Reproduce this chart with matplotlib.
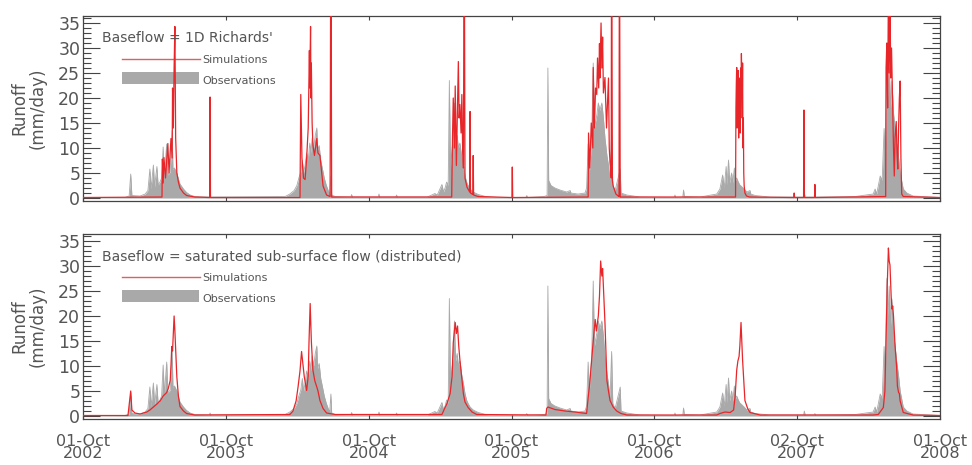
import numpy as np
import matplotlib
matplotlib.use('Agg')
import matplotlib.pyplot as plt
from matplotlib.patches import Rectangle
from matplotlib.ticker import MultipleLocator

# daily runoff (mm/day), days counted from 01-Oct-2002
obs_day = [0, 107, 118, 122, 125, 146, 159, 166, 171, 174, 180, 183, 189, 192, 197, 201, 205, 208, 214, 217,
           223, 228, 230, 234, 240, 244, 248, 257, 265, 274, 286, 323, 325, 327,
           517, 529, 540, 547, 552, 557, 561, 564, 568, 572, 576, 580, 583, 586, 590, 594, 598, 600, 604, 608,
           612, 617, 622, 627, 631, 634, 636, 645, 685, 687, 689, 755, 757, 759, 800, 802, 804,
           880, 892, 900, 906, 918, 922, 926, 930, 934, 937, 940, 943, 947, 950, 953, 957, 960, 964, 969, 973,
           977, 981, 985, 990, 998, 1011, 1030, 1060, 1133, 1135, 1137,
           1179, 1187, 1189, 1191, 1197, 1207, 1220, 1237, 1246, 1248, 1266, 1284, 1288, 1292, 1295, 1301, 1305,
           1308, 1314, 1318, 1322, 1327, 1331, 1335, 1340, 1344, 1348, 1352, 1355, 1361, 1374, 1376, 1391, 1425,
           1512, 1514, 1516, 1534, 1536, 1538, 1578, 1621, 1629, 1636, 1640, 1645, 1647, 1651, 1654, 1659, 1662,
           1666, 1669, 1672, 1676, 1680, 1683, 1691, 1698, 1706, 1708, 1719, 1757,
           1843, 1845, 1847, 1870, 1872, 1874, 1975, 2021, 2026, 2030, 2039, 2044, 2049, 2052, 2056, 2059, 2062,
           2066, 2069, 2073, 2077, 2081, 2086, 2090, 2098, 2107, 2123, 2192]
obs_val = [0.05, 0.1, 0.4, 4.8, 0.5, 0.4, 0.8, 1.5, 5.8, 1.8, 6.6, 2.2, 6.3, 2.6, 3.2, 4.0, 10.2, 4.2, 10.8, 4.6,
           5.2, 13.5, 5.8, 6.0, 5.0, 3.8, 2.8, 1.8, 1.1, 0.6, 0.3, 0.2, 0.6, 0.2,
           0.3, 0.8, 1.5, 2.5, 4.0, 5.2, 7.5, 5.0, 6.5, 9.0, 7.5, 11.0, 9.0, 12.0, 10.0, 12.5, 14.0, 9.5, 10.5, 7.5,
           6.0, 4.0, 2.6, 1.5, 0.8, 4.4, 0.6, 0.3, 0.2, 0.7, 0.2, 0.2, 0.8, 0.2, 0.2, 0.6, 0.2,
           0.2, 0.6, 0.9, 0.6, 2.7, 1.2, 2.0, 3.2, 2.5, 23.5, 6.0, 9.0, 12.0, 19.0, 11.0, 12.5, 10.0, 11.0, 8.0, 6.5,
           4.5, 3.2, 2.5, 1.8, 1.2, 0.7, 0.3, 0.1, 0.1, 0.5, 0.1,
           0.3, 0.5, 26.0, 3.5, 2.5, 2.0, 1.6, 1.2, 1.5, 1.0, 0.8, 1.0, 2.0, 10.8, 5.0, 11.5, 27.0,
           14.0, 16.5, 19.0, 17.5, 19.0, 16.0, 12.0, 8.5, 6.5, 3.5, 12.9, 2.5, 1.5, 5.8, 1.0, 0.6, 0.2,
           0.1, 0.6, 0.1, 0.2, 1.6, 0.3, 0.2, 0.8, 1.8, 4.6, 2.0, 6.3, 2.6, 7.6, 3.0, 5.0, 3.0,
           6.0, 3.5, 4.0, 3.2, 2.6, 2.4, 1.8, 1.2, 1.5, 0.8, 0.5, 0.2,
           0.2, 1.0, 0.2, 0.2, 0.5, 0.2, 0.3, 0.8, 1.8, 0.8, 4.4, 3.5, 13.9, 8.0, 27.5, 20.0, 26.0,
           18.0, 23.4, 17.0, 14.0, 11.0, 8.0, 5.0, 1.8, 1.0, 0.4, 0.1]

# simulated runoff, baseflow from 1D Richards'
rich_day = [0, 202, 203, 205, 207, 211, 217, 220, 225, 228, 229, 231, 233, 235, 237, 240, 244, 248, 257, 265, 286,
            324, 325, 326,
            555, 557, 560, 564, 568, 572, 576, 579, 580, 582, 583, 584, 586, 588, 592, 598, 601, 606, 614, 623,
            632, 634, 636,
            943, 945, 947, 950, 952, 955, 957, 960, 962, 964, 967, 969, 971, 973, 975, 977, 982, 989, 990, 991,
            997, 998, 999, 1010, 1097, 1098, 1099,
            1292, 1293, 1296, 1300, 1304, 1305, 1308, 1311, 1314, 1316, 1319, 1321, 1322, 1325, 1327, 1329, 1331,
            1335, 1339, 1344, 1346, 1348, 1351, 1352, 1354, 1356, 1363, 1369, 1371, 1372, 1374,
            1669, 1670, 1671, 1672, 1673, 1674, 1675, 1676, 1677, 1678, 1679, 1680, 1681, 1682, 1683, 1684, 1685,
            1686, 1687, 1688, 1689, 1690, 1691, 1693, 1697, 1705,
            1818, 1819, 1820, 1843, 1844, 1845, 1871, 1872, 1873,
            2053, 2054, 2056, 2058, 2060, 2062, 2064, 2066, 2068, 2070, 2071, 2073, 2075, 2077, 2080, 2082, 2084,
            2086, 2088, 2090, 2092, 2094, 2098, 2192]
rich_val = [0.1, 0.2, 7.8, 3.0, 8.1, 4.0, 10.9, 5.0, 11.9, 8.0, 22.0, 14.0, 26.0, 34.3, 12.0, 5.0, 3.2, 2.0, 1.0, 0.5, 0.2,
            0.1, 20.2, 0.1,
            0.1, 20.7, 8.0, 4.0, 3.7, 8.0, 14.0, 29.5, 22.0, 34.3, 20.0, 27.0, 15.0, 10.6, 8.5, 11.9, 9.0, 8.5, 2.4, 0.6,
            0.3, 60.0, 0.2,
            0.2, 12.0, 20.0, 10.0, 22.4, 6.5, 15.0, 27.3, 16.0, 18.7, 13.0, 20.7, 10.0, 6.0, 60.0, 4.0, 2.2, 1.2, 17.3, 1.0,
            0.7, 8.5, 0.6, 0.3, 0.1, 6.2, 0.1,
            0.2, 13.0, 6.0, 15.0, 10.0, 26.1, 14.0, 22.0, 20.7, 28.0, 22.0, 30.9, 24.0, 35.0, 26.0, 32.2, 21.0,
            24.1, 14.0, 24.0, 10.0, 7.1, 4.0, 60.0, 3.5, 2.4, 0.8, 0.4, 0.3, 60.0, 0.2,
            0.2, 18.0, 23.0, 26.1, 14.0, 24.0, 20.0, 25.5, 12.0, 22.0, 17.0, 24.0, 13.0, 26.0, 20.0, 28.9, 24.0,
            16.0, 27.0, 10.0, 16.0, 5.0, 2.5, 1.0, 0.4, 0.2,
            0.1, 1.0, 0.1, 0.1, 17.6, 0.1, 0.1, 2.7, 0.1,
            0.3, 26.0, 31.0, 18.0, 42.0, 25.0, 40.0, 24.0, 30.0, 22.0, 18.7, 10.0, 4.4, 12.0, 15.3, 9.0, 5.8,
            14.0, 20.0, 23.4, 8.0, 0.8, 0.3, 0.1]

# simulated runoff, baseflow from distributed saturated sub-surface flow
dist_day = [0, 115, 122, 125, 133, 146, 163, 171, 180, 189, 197, 205, 214, 218, 223, 225, 227, 229, 233, 235, 240,
            244, 248, 257, 265, 286,
            529, 537, 545, 550, 555, 559, 563, 566, 572, 576, 578, 581, 584, 588, 593, 598, 601, 606, 614, 623, 645,
            918, 926, 931, 939, 944, 947, 952, 955, 958, 961, 964, 969, 973, 977, 985, 995, 1007,
            1184, 1186, 1189, 1207, 1233, 1258, 1288, 1292, 1296, 1301, 1305, 1310, 1313, 1318, 1321, 1324, 1327,
            1329, 1332, 1335, 1340, 1344, 1348, 1356, 1365, 1376, 1391,
            1621, 1629, 1642, 1655, 1664, 1668, 1672, 1675, 1678, 1680, 1683, 1685, 1687, 1691, 1693, 1700, 1706, 1732,
            2021, 2034, 2047, 2051, 2054, 2057, 2060, 2062, 2064, 2067, 2069, 2071, 2073, 2077, 2081, 2083, 2086,
            2088, 2090, 2098, 2123, 2192]
dist_val = [0.1, 0.1, 5.0, 1.2, 0.6, 0.4, 0.8, 1.2, 1.8, 2.4, 3.0, 4.0, 4.7, 5.5, 7.1, 10.0, 13.9, 13.0, 20.0, 17.0, 7.8,
            4.0, 1.9, 1.0, 0.5, 0.2,
            0.3, 1.0, 3.0, 5.8, 9.0, 12.9, 10.0, 7.8, 5.1, 8.0, 14.7, 22.5, 15.0, 9.2, 7.0, 5.8, 5.0, 3.1, 1.5, 0.6, 0.3,
            0.3, 1.7, 2.5, 4.5, 8.0, 14.6, 18.7, 16.5, 18.0, 14.0, 11.2, 7.5, 4.4, 2.8, 1.7, 0.8, 0.3,
            0.2, 1.5, 1.8, 1.3, 1.0, 0.8, 0.5, 3.7, 6.5, 11.2, 15.0, 19.3, 17.0, 20.0, 24.0, 31.0, 28.0,
            29.5, 24.0, 18.7, 7.1, 5.0, 3.1, 1.8, 1.0, 0.5, 0.2,
            0.2, 0.5, 0.8, 0.7, 1.2, 4.0, 9.2, 11.0, 11.9, 14.0, 18.7, 15.0, 11.2, 6.0, 3.1, 1.5, 0.7, 0.2,
            0.2, 0.3, 1.7, 5.0, 15.9, 26.1, 33.6, 31.0, 30.2, 24.0, 21.4, 22.0, 20.0, 14.0, 9.8, 6.0, 4.7,
            4.5, 3.0, 0.7, 0.2, 0.1]

tick_dates = ['2002-10-01', '2003-10-01', '2004-10-01', '2005-10-01', '2006-10-01', '2007-10-02', '2008-10-01']
tick_labels = ['01-Oct\n2002', '01-Oct\n2003', '01-Oct\n2004', '01-Oct\n2005', '01-Oct\n2006',
               '02-Oct\n2007', '01-Oct\n2008']
titles = ["Baseflow = 1D Richards'", "Baseflow = saturated sub-surface flow (distributed)"]

start = np.datetime64('2002-10-01')


def to_dates(days):
    return start + np.asarray(days).astype('timedelta64[D]')


text_col = '#555555'
frame_col = '#444444'
red = '#e8262a'
grey = '#a9a9a9'

fig = plt.figure(figsize=(9.72, 4.65), dpi=100)
ax_top = fig.add_axes([0.0854, 0.5677, 0.8817, 0.3979])
ax_bot = fig.add_axes([0.0854, 0.0989, 0.8817, 0.3979])

obs_x = to_dates(obs_day)
for ax, sim_day, sim_val, title in [(ax_top, rich_day, rich_val, titles[0]),
                                    (ax_bot, dist_day, dist_val, titles[1])]:
    ax.fill_between(obs_x, obs_val, 0, color=grey, lw=0, zorder=1)
    ax.plot(obs_x, obs_val, color=grey, lw=0.6, zorder=1)
    ax.plot(to_dates(sim_day), sim_val, color=red, lw=0.9, zorder=3)

    ax.set_xlim(np.datetime64('2002-10-01'), np.datetime64('2008-10-01'))
    ax.set_ylim(-0.6, 36.4)
    ax.set_xticks([np.datetime64(d) for d in tick_dates])
    if ax is ax_bot:
        ax.set_xticklabels(tick_labels, fontsize=11.5, color=text_col, linespacing=0.75)
    else:
        ax.set_xticklabels([])
    ax.yaxis.set_minor_locator(MultipleLocator(1))
    ax.set_yticks(range(0, 36, 5))
    ax.set_yticklabels([str(v) for v in range(0, 36, 5)], fontsize=12.5, color=text_col)
    ax.tick_params(axis='y', which='major', direction='in', length=12, width=0.8,
                   left=True, right=True, color=frame_col, pad=2)
    ax.tick_params(axis='y', which='minor', direction='in', length=6, width=0.8,
                   left=True, right=True, color=frame_col)
    ax.tick_params(axis='x', which='major', direction='in', length=3, width=0.8,
                   top=True, bottom=True, color=frame_col, pad=11)
    for sp in ax.spines.values():
        sp.set_color(frame_col)
        sp.set_linewidth(0.9)

    ax.text(-0.064, 0.5, 'Runoff\n(mm/day)', transform=ax.transAxes, rotation=90,
            ha='center', va='center', fontsize=12, color=text_col, linespacing=1.0)

    # legend block
    ax.text(0.022, 0.88, title, transform=ax.transAxes, fontsize=10, color=text_col,
            ha='left', va='center')
    ax.plot([0.0455, 0.1365], [0.766, 0.766], transform=ax.transAxes, color='#e06060', lw=1, zorder=2)
    ax.text(0.139, 0.76, 'Simulations', transform=ax.transAxes, fontsize=8, color=text_col,
            ha='left', va='center')
    ax.add_patch(Rectangle((0.0455, 0.632), 0.09, 0.065, transform=ax.transAxes,
                           facecolor=grey, edgecolor='none', zorder=1))
    ax.text(0.139, 0.646, 'Observations', transform=ax.transAxes, fontsize=8, color=text_col,
            ha='left', va='center')

fig.savefig('out.png', dpi=100)
